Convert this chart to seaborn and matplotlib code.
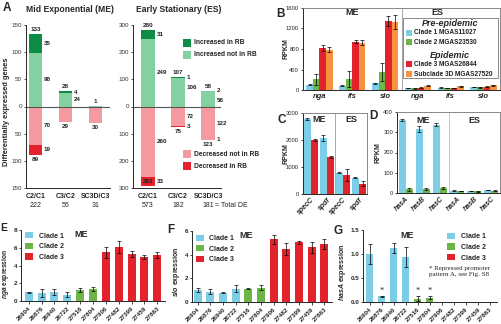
import numpy as np
import pandas as pd
import matplotlib
matplotlib.use('Agg')
import matplotlib.pyplot as plt
import seaborn as sns
from matplotlib.patches import Patch, Rectangle
from matplotlib.ticker import FuncFormatter

W, H = 501, 324

# ---------------- data ----------------
# A: differentially expressed genes (up = increased, down = decreased)
comparisons = ['C2/C1', 'C3/C2', 'SC3D/C3']
me_up_total = [133, 28, 1]
me_up_rb = [35, 4, 0]
me_down_total = [89, 29, 30]
me_down_rb = [19, 0, 0]
me_total_de = [222, 56, 31]
es_up_total = [280, 107, 58]
es_up_rb = [31, 1, 2]
es_down_total = [293, 75, 123]
es_down_rb = [33, 3, 1]
es_total_de = [573, 182, 181]

# B: RPKM, ME nga/ifs/slo then ES nga/ifs/slo
b_genes = ['nga', 'ifs', 'slo']
b_clade1 = [100, 80, 130, 40, 45, 60]
b_clade1_err = [10, 8, 10, 4, 4, 5]
b_clade2 = [210, 215, 355, 30, 35, 50]
b_clade2_err = [110, 160, 180, 4, 4, 5]
b_clade3 = [815, 945, 1345, 45, 40, 65]
b_clade3_err = [60, 30, 95, 5, 5, 6]
b_sub3d = [790, 925, 1325, 80, 70, 90]
b_sub3d_err = [55, 50, 140, 8, 8, 10]

# C: RPKM, ME specC/spdf then ES specC/spdf
c_genes = ['specC', 'spdf']
c_clade1 = [2780, 2080, 780, 600]
c_clade1_err = [40, 110, 20, 25]
c_clade3 = [2000, 1380, 700, 380]
c_clade3_err = [30, 40, 230, 90]

# D: RPKM, ME hasA/hasB/hasC then ES
d_genes = ['hasA', 'hasB', 'hasC']
d_clade1 = [360, 315, 338, 12, 10, 15]
d_clade1_err = [3, 15, 8, 1, 1, 1]
d_clade2 = [18, 20, 25, 10, 8, 12]
d_clade2_err = [6, 5, 4, 1, 1, 1]

# E-G: qRT-PCR expression per strain
strains = ['26904', '26876', '26940', '26722', '27516', '27804',
           '27906', '27482', '27399', '27459', '27863']
strain_clade = ['Clade 1', 'Clade 1', 'Clade 1', 'Clade 1', 'Clade 2', 'Clade 2',
                'Clade 3', 'Clade 3', 'Clade 3', 'Clade 3', 'Clade 3']
nga_expr = [1.0, 0.9, 1.0, 0.68, 1.27, 1.38, 5.5, 6.05, 5.3, 4.95, 5.2]
nga_err = [0.05, 0.45, 0.35, 0.28, 0.23, 0.23, 0.6, 0.68, 0.35, 0.22, 0.3]
slo_expr = [1.0, 0.86, 0.8, 1.14, 1.14, 1.2, 5.3, 4.5, 5.03, 4.63, 4.92]
slo_err = [0.18, 0.2, 0.06, 0.26, 0.03, 0.2, 0.36, 0.5, 0.12, 0.48, 0.42]
has_expr = [1.0, 0.12, 1.13, 0.93, 0.07, 0.09, 0, 0, 0, 0, 0]
has_err = [0.21, 0.01, 0.1, 0.21, 0.05, 0.03, 0, 0, 0, 0, 0]
repressed = ['26876', '27516', '27804']

# ---------------- style ----------------
DARK_GREEN, LIGHT_GREEN = '#0c8c45', '#83d1a0'
LIGHT_RED, DARK_RED = '#f59aa0', '#e5222b'
CYAN, GREEN, RED, ORANGE = '#7ccde6', '#6cb546', '#e3232b', '#f7923e'
clade_names = ['Clade 1', 'Clade 2', 'Clade 3']
clade_colors = [CYAN, GREEN, RED]

sns.set_style('ticks')
plt.rcParams['font.family'] = ['Liberation Sans', 'DejaVu Sans']
plt.rcParams['mathtext.fontset'] = 'custom'
plt.rcParams['mathtext.it'] = 'Liberation Sans:italic:bold'
plt.rcParams['mathtext.rm'] = 'Liberation Sans:bold'
plt.rcParams['axes.linewidth'] = 0.7
plt.rcParams['xtick.major.width'] = 0.6
plt.rcParams['ytick.major.width'] = 0.6
plt.rcParams['xtick.major.size'] = 2
plt.rcParams['ytick.major.size'] = 1.8
plt.rcParams['xtick.major.pad'] = 1.5
plt.rcParams['ytick.major.pad'] = 1.0

fig = plt.figure(figsize=(W / 100, H / 100), dpi=100)


def px_box(x0, y0, x1, y1):
    return [x0 / W, 1 - y1 / H, (x1 - x0) / W, (y1 - y0) / H]


def fig_text(x, y, s, **kw):
    fig.text(x / W, 1 - y / H, s, **kw)


def fig_rect(x, y, w, h, **kw):
    fig.patches.append(Rectangle((x / W, 1 - (y + h) / H), w / W, h / H,
                                 transform=fig.transFigure, figure=fig, **kw))


def errbars(ax, pos, vals, errs):
    ax.errorbar(pos, vals, yerr=errs, fmt='none', ecolor='black',
                elinewidth=0.5, capsize=1.3, capthick=0.5, zorder=5)


# ---------------- A ----------------
def change_panel(ax, up_total, up_rb, down_total, down_rb, totals, lim, ticks, xlim, width):
    df = pd.DataFrame({
        'comparison': comparisons,
        'up_total': up_total,
        'up_not': np.subtract(up_total, up_rb),
        'down_total': -np.asarray(down_total),
        'down_not': -np.subtract(down_total, down_rb),
    })
    for col, color in [('up_total', DARK_GREEN), ('up_not', LIGHT_GREEN),
                       ('down_total', DARK_RED), ('down_not', LIGHT_RED)]:
        sns.barplot(data=df, x='comparison', y=col, color=color, width=width,
                    saturation=1, ax=ax, linewidth=0, errorbar=None)
    ax.axhline(0, color='#555555', lw=0.8)
    ax.set_ylim(-lim, lim)
    ax.set_yticks(ticks)
    ax.yaxis.set_major_formatter(FuncFormatter(lambda v, p: f'{abs(int(v))}'))
    ax.tick_params(axis='y', labelsize=4.5, colors='#333333')
    ax.set_xlim(*xlim)
    ax.set_xticks([])
    ax.set_xlabel('')
    ax.set_ylabel('')
    sns.despine(ax=ax)
    off = lim * 0.025
    kw = dict(fontsize=4.5, weight='bold', color='#222222')
    for i in range(3):
        ut, ur, dt, dr = up_total[i], up_rb[i], down_total[i], down_rb[i]
        xr = i + width / 2 + 0.06
        ax.text(i, ut + off, str(ut), ha='center', va='bottom', **kw)
        if ur > 0:
            if ur / ut > 0.05:
                ax.text(xr, ut - ur / 2, str(ur), ha='left', va='center', **kw)
                ax.text(xr, (ut - ur) / 2, str(ut - ur), ha='left', va='center', **kw)
            else:
                ax.text(xr, ut, str(ur), ha='left', va='center', **kw)
                ax.text(xr, ut - lim * 0.12, str(ut - ur), ha='left', va='center', **kw)
        if dr > 0:
            ax.text(xr, -(dt - dr / 2), str(dr), ha='left', va='center', **kw)
            ax.text(xr, -(dt - dr) / 2, str(dt - dr), ha='left', va='center', **kw)
        if dt + lim * 0.08 > lim:
            ax.text(i, -(dt - dr / 2), str(dt), ha='center', va='center', **kw)
        else:
            ax.text(i, -dt - off, str(dt), ha='center', va='top', **kw)
        ax.text(i, -0.05, comparisons[i], transform=ax.get_xaxis_transform(),
                ha='center', va='center', fontsize=5, weight='bold', color='#222222')
        ax.text(i, -0.105, str(totals[i]), transform=ax.get_xaxis_transform(),
                ha='center', va='center', fontsize=5, color='#222222')


ax_me = fig.add_axes(px_box(26, 25, 110, 188))
change_panel(ax_me, me_up_total, me_up_rb, me_down_total, me_down_rb, me_total_de,
             150, [-150, -100, -50, 0, 50, 100, 150], (-0.32, 2.48), 0.43)
ax_me.set_ylabel('Differentially expressed genes', fontsize=5.4, weight='bold')
ax_me.yaxis.set_label_coords(-0.19, 0.47)

ax_es = fig.add_axes(px_box(133, 25, 221, 188))
change_panel(ax_es, es_up_total, es_up_rb, es_down_total, es_down_rb, es_total_de,
             300, [-300, -200, -100, 0, 100, 200, 300], (-0.5, 2.43), 0.46)
ax_es.text(2.22, -0.105, '= Total DE', transform=ax_es.get_xaxis_transform(),
           ha='left', va='center', fontsize=5, color='#222222')

fig_text(3, 8, 'A', fontsize=8.5, weight='bold', va='center')
fig_text(70, 10, 'Mid Exponential (ME)', fontsize=6.2, weight='bold', ha='center', va='center')
fig_text(179, 10, 'Early Stationary (ES)', fontsize=6.2, weight='bold', ha='center', va='center')

for y, color, label in [(43, DARK_GREEN, 'Increased in RB'),
                        (55, LIGHT_GREEN, 'Increased not in RB'),
                        (154, LIGHT_RED, 'Decreased not in RB'),
                        (166, DARK_RED, 'Decreased in RB')]:
    fig_rect(183, y - 4, 8, 8, facecolor=color, edgecolor='none')
    fig_text(194, y, label, fontsize=4.8, weight='bold', va='center', color='#222222')


# ---------------- B, C, D ----------------
def grouped_bars(ax, keys, series, errors, names, colors, width, label_x):
    rows = []
    for name, vals in zip(names, series):
        for k, v in zip(keys, vals):
            rows.append({'key': k, 'strain': name, 'value': v})
    df = pd.DataFrame(rows)
    sns.barplot(data=df, x='key', y='value', hue='strain', order=keys, hue_order=names,
                palette=colors, width=width, saturation=1, ax=ax, legend=False,
                linewidth=0, errorbar=None)
    w = width / len(names)
    for j, (vals, errs) in enumerate(zip(series, errors)):
        pos = np.arange(len(keys)) - width / 2 + w / 2 + j * w
        errbars(ax, pos, vals, errs)
    ax.set_xlabel('')
    ax.set_ylabel('RPKM', fontsize=5, weight='bold')
    ax.yaxis.set_label_coords(label_x, 0.5)
    ax.set_xlim(-0.5, len(keys) - 0.5)
    for side in ['top', 'right']:
        ax.spines[side].set_color('#888888')
    ax.tick_params(axis='y', labelsize=4.2)
    ax.tick_params(axis='x', length=0, pad=2)


b_keys = [f'{s} {g}' for s in ['ME', 'ES'] for g in b_genes]
ax_b = fig.add_axes(px_box(303, 8, 500, 90))
grouped_bars(ax_b, b_keys, [b_clade1, b_clade2, b_clade3, b_sub3d],
             [b_clade1_err, b_clade2_err, b_clade3_err, b_sub3d_err],
             ['Clade 1 MGAS11027', 'Clade 2 MGAS23530', 'Clade 3 MGAS26844',
              'Subclade 3D MGAS27520'], [CYAN, GREEN, RED, ORANGE], 0.8, -0.068)
ax_b.set_ylim(0, 1600)
ax_b.set_yticks([0, 400, 800, 1200, 1600])
ax_b.set_xticks(range(6))
ax_b.set_xticklabels(b_genes * 2, fontsize=5.5, style='italic', weight='bold')
ax_b.axvline(2.5, color='#999999', lw=0.6)
ax_b.text(1, 0.94, 'ME', transform=ax_b.get_xaxis_transform(), ha='center', va='center',
          fontsize=6.5, weight='bold')
ax_b.text(3.6, 0.94, 'ES', transform=ax_b.get_xaxis_transform(), ha='center', va='center',
          fontsize=6.5, weight='bold')

fig_rect(403, 18, 95, 60, facecolor='white', edgecolor='#777777', lw=0.6)
fig_text(450, 24, 'Pre-epidemic', fontsize=6.5, weight='bold', style='italic', ha='center', va='center')
fig_text(450, 55, 'Epidemic', fontsize=6.5, weight='bold', style='italic', ha='center', va='center')
for y, color, label in [(33, CYAN, 'Clade 1 MGAS11027'), (42, GREEN, 'Clade 2 MGAS23530'),
                        (64, RED, 'Clade 3 MGAS26844'), (74, ORANGE, 'Subclade 3D MGAS27520')]:
    fig_rect(406, y - 3, 6, 6, facecolor=color, edgecolor='none')
    fig_text(414, y, label, fontsize=4.7, weight='bold', va='center', color='#222222')
fig_text(276, 14, 'B', fontsize=8.5, weight='bold', va='center')

c_keys = [f'{s} {g}' for s in ['ME', 'ES'] for g in c_genes]
ax_c = fig.add_axes(px_box(303, 113, 367, 194))
grouped_bars(ax_c, c_keys, [c_clade1, c_clade3], [c_clade1_err, c_clade3_err],
             ['Clade 1', 'Clade 3'], [CYAN, RED], 0.9, -0.21)
ax_c.set_ylim(0, 3000)
ax_c.set_yticks([0, 1000, 2000, 3000])
ax_c.set_xticks(range(4))
ax_c.set_xticklabels(c_genes * 2, fontsize=5, style='italic', weight='bold',
                     rotation=45, ha='right', rotation_mode='anchor')
ax_c.axvline(1.5, color='#999999', lw=0.6)
ax_c.text(0.5, 0.92, 'ME', transform=ax_c.get_xaxis_transform(), ha='center', va='center',
          fontsize=6.5, weight='bold')
ax_c.text(2.5, 0.92, 'ES', transform=ax_c.get_xaxis_transform(), ha='center', va='center',
          fontsize=6.5, weight='bold')
fig_text(277, 120, 'C', fontsize=8.5, weight='bold', va='center')

d_keys = [f'{s} {g}' for s in ['ME', 'ES'] for g in d_genes]
ax_d = fig.add_axes(px_box(397, 112, 500, 193))
grouped_bars(ax_d, d_keys, [d_clade1, d_clade2], [d_clade1_err, d_clade2_err],
             ['Clade 1', 'Clade 2'], [CYAN, GREEN], 0.82, -0.15)
ax_d.set_ylim(0, 400)
ax_d.set_yticks([0, 100, 200, 300, 400])
ax_d.set_xticks(range(6))
ax_d.set_xticklabels(d_genes * 2, fontsize=5, style='italic', weight='bold',
                     rotation=45, ha='right', rotation_mode='anchor')
ax_d.axvline(2.5, color='#bbbbbb', lw=0.6)
ax_d.text(1, 0.9, 'ME', transform=ax_d.get_xaxis_transform(), ha='center', va='center',
          fontsize=6.5, weight='bold')
ax_d.text(4, 0.9, 'ES', transform=ax_d.get_xaxis_transform(), ha='center', va='center',
          fontsize=6.5, weight='bold')
fig_text(369, 116, 'D', fontsize=8.5, weight='bold', va='center')


# ---------------- E, F, G ----------------
def expression_panel(ax, values, errs, ymax, ticks, gene, xlim, legend_anchor, title_x):
    df = pd.DataFrame({'strain': strains, 'clade': strain_clade, 'value': values})
    sns.barplot(data=df, x='strain', y='value', hue='clade', hue_order=clade_names,
                order=strains, palette=clade_colors, dodge=False, width=0.62,
                saturation=1, ax=ax, legend=False, linewidth=0, errorbar=None)
    shown = [i for i, v in enumerate(values) if v > 0]
    errbars(ax, shown, [values[i] for i in shown], [errs[i] for i in shown])
    ax.set_ylim(0, ymax)
    ax.set_yticks(ticks)
    ax.set_xlim(*xlim)
    ax.set_xticks(range(len(strains)))
    ax.set_xticklabels(strains, fontsize=4.5, weight='bold', rotation=45,
                       ha='right', rotation_mode='anchor')
    ax.tick_params(axis='y', labelsize=4.5)
    ax.set_xlabel('')
    ax.set_ylabel(rf'$\mathit{{{gene}}}$ expression', fontsize=5, weight='bold')
    sns.despine(ax=ax)
    ax.text(title_x, 0.93, 'ME', transform=ax.transAxes, ha='center', va='center',
            fontsize=6.5, weight='bold')
    handles = [Patch(facecolor=c, edgecolor='none', label=n)
               for n, c in zip(clade_names, clade_colors)]
    ax.legend(handles=handles, loc='upper left', bbox_to_anchor=legend_anchor,
              frameon=False, borderpad=0, borderaxespad=0, handlelength=1.1,
              handleheight=1.0, handletextpad=0.8, labelspacing=0.45,
              prop={'size': 5, 'weight': 'bold'})


ax_e = fig.add_axes(px_box(21, 230, 165, 301))
expression_panel(ax_e, nga_expr, nga_err, 8, [0, 2, 4, 6, 8], 'nga',
                 (-0.6, 10.6), (0.03, 0.97), 0.42)
ax_e.set_ylabel(r'$\mathit{nga}$ expression', fontsize=4.8, weight='bold')
ax_e.yaxis.set_label_coords(-0.07, 0.38)
fig_text(0, 228, 'E', fontsize=7.5, weight='bold', va='center')

ax_f = fig.add_axes(px_box(192, 231, 332, 302))
expression_panel(ax_f, slo_expr, slo_err, 6, [0, 2, 4, 6], 'slo',
                 (-0.45, 10.6), (0.03, 0.95), 0.39)
ax_f.yaxis.set_label_coords(-0.07, 0.42)
fig_text(167, 230, 'F', fontsize=8.5, weight='bold', va='center')

ax_g = fig.add_axes(px_box(363, 230, 497, 302))
expression_panel(ax_g, has_expr, has_err, 1.5, [0.0, 0.5, 1.0, 1.5], 'hasA',
                 (-0.55, 10.6), (0.63, 0.96), 0.33)
ax_g.yaxis.set_major_formatter(FuncFormatter(lambda v, p: f'{v:.1f}'))
ax_g.yaxis.set_label_coords(-0.11, 0.42)
for ax in (ax_e, ax_f, ax_g):
    for t in ax.get_yticklabels():
        t.set_fontweight('bold')
for i, s in enumerate(strains):
    if s in repressed:
        ax_g.text(i, has_expr[i] + has_err[i] + 0.02, '*', ha='center', va='bottom',
                  fontsize=6, family='Liberation Serif')
ax_g.text(0.72, 0.42, '* Repressed promoter\npattern A, see Fig. S8', transform=ax_g.transAxes,
          ha='center', va='center', fontsize=5, family='Liberation Serif', linespacing=1.2)
fig_text(333, 231, 'G', fontsize=8.5, weight='bold', va='center')

fig.savefig('out.png', dpi=100)
